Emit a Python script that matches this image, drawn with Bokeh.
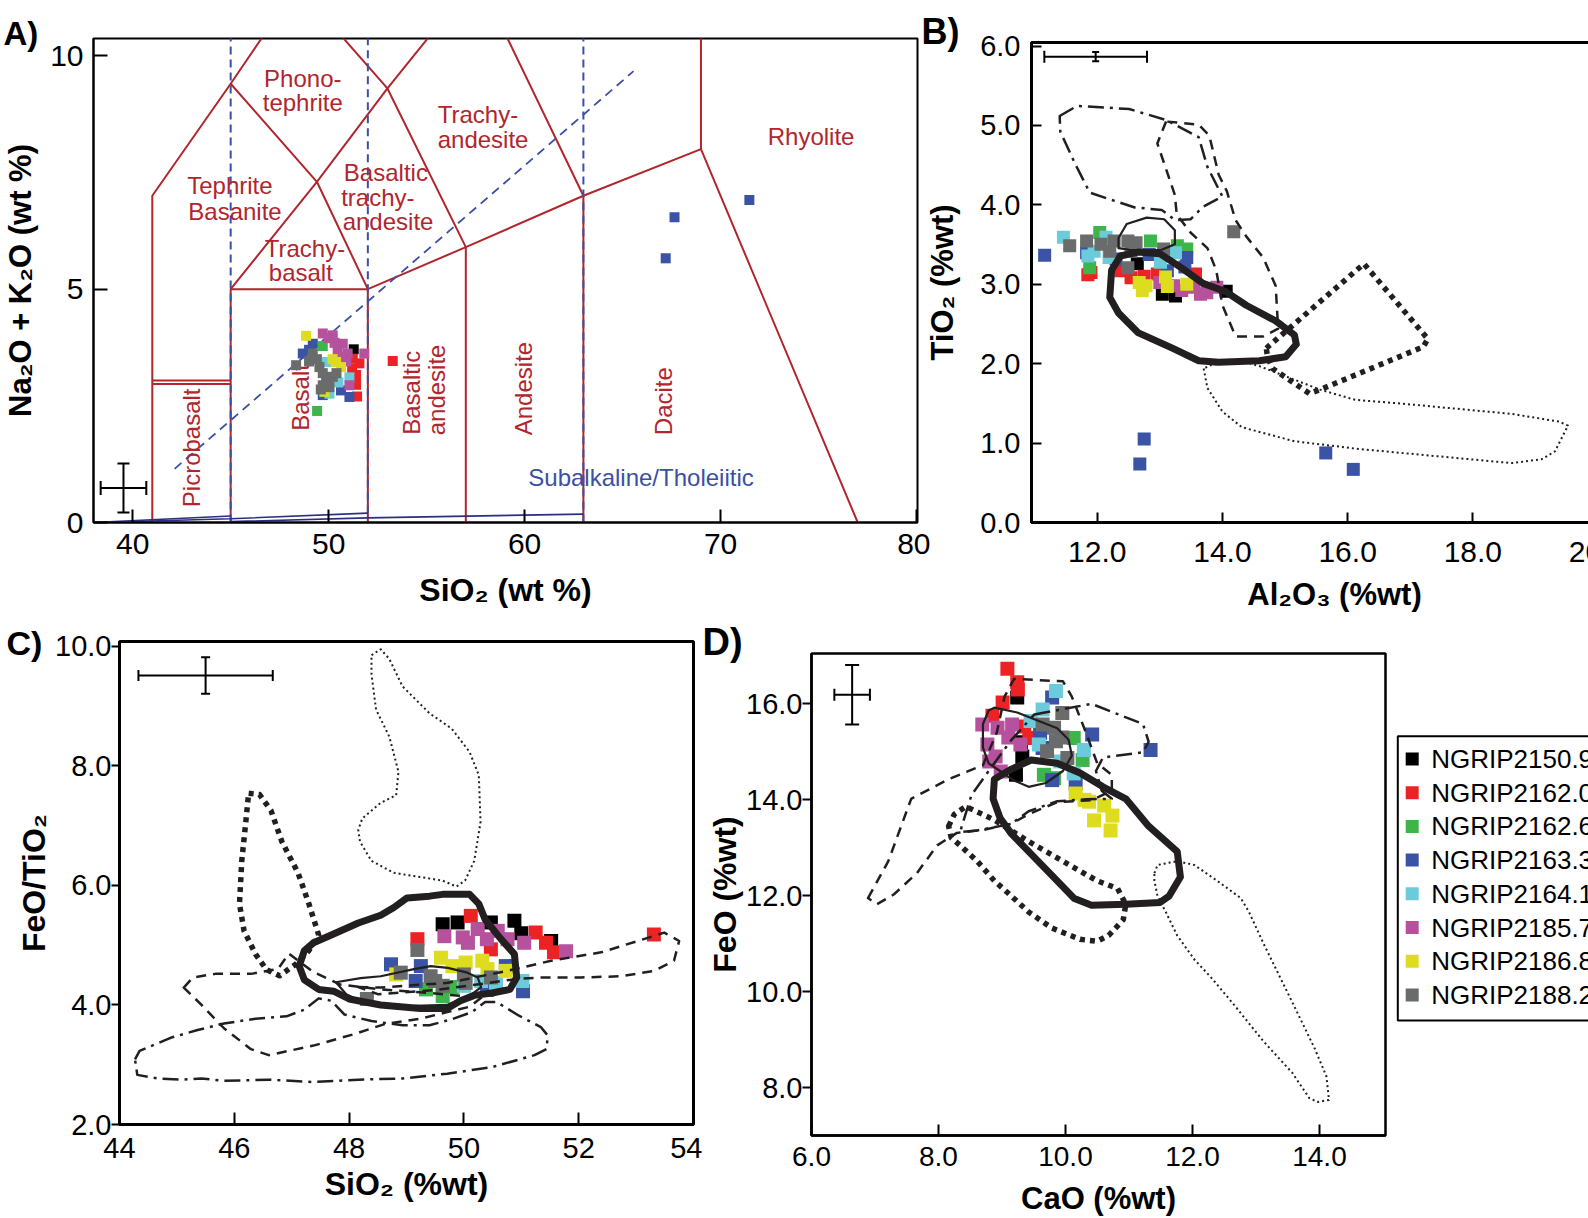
import math
from bokeh.plotting import figure
from bokeh.layouts import column, row
from bokeh.models import (ColumnDataSource, FixedTicker, PrintfTickFormatter, Whisker, TeeHead)
from bokeh.embed import file_html
from bokeh.resources import INLINE
from bokeh.core.properties import value

FONT = "Liberation Sans"
RED = "#B1262C"
BLUE = "#3B4FA3"
NAVY = "#2B2F7F"
INK = "#231F20"

# ---------------- samples ----------------
SAMPLES = ["2150.9", "2162.0", "2162.6", "2163.3", "2164.1", "2185.7", "2186.8", "2188.2"]
SAMPLE_LABELS = ["NGRIP2150.9", "NGRIP2162.0", "NGRIP2162.6", "NGRIP2163.3",
                 "NGRIP2164.1", "NGRIP2185.7", "NGRIP2186.8", "NGRIP2188.2"]
SAMPLE_COLORS = ["#000000", "#ED2224", "#3DB54A", "#3A53A4", "#6BCBDA", "#B5519D", "#DEDC1F", "#6A6B6B"]

# ---------------- panel A: TAS ----------------
A_SAMPLE = [
    "2150.9", "2150.9",
    "2162.0", "2162.0", "2162.0", "2162.0", "2162.0", "2162.0", "2162.0",
    "2162.6", "2162.6",
    "2163.3", "2163.3", "2163.3", "2163.3", "2163.3", "2163.3", "2163.3", "2163.3", "2163.3",
    "2164.1", "2164.1", "2164.1", "2164.1",
    "2185.7", "2185.7", "2185.7", "2185.7", "2185.7", "2185.7", "2185.7", "2185.7", "2185.7", "2185.7", "2185.7",
    "2186.8", "2186.8", "2186.8", "2186.8", "2186.8",
    "2188.2", "2188.2", "2188.2", "2188.2", "2188.2", "2188.2", "2188.2", "2188.2", "2188.2", "2188.2", "2188.2", "2188.2", "2188.2",
]
A_SIO2 = [
    51.28, 51.10,
    51.57, 51.23, 51.40, 51.40, 51.45, 53.27, 51.20,
    49.41, 49.70,
    49.19, 48.68, 49.70, 51.06, 50.63, 49.00, 67.20, 67.65, 71.47,
    49.87, 51.06, 50.04, 50.50,
    49.70, 50.21, 50.72, 50.46, 50.97, 51.82, 50.30, 50.90, 50.60, 51.06, 50.00,
    48.85, 50.38, 50.63, 49.78, 50.20,
    48.34, 49.19, 49.53, 49.87, 50.21, 49.70, 50.04, 49.40, 49.00, 49.70, 50.00, 49.60, 50.40,
]
A_ALKALI = [
    3.71, 3.60,
    3.41, 3.51, 3.16, 2.95, 2.70, 3.46, 3.30,
    2.39, 3.78,
    3.83, 3.62, 2.73, 2.69, 2.83, 3.70, 5.66, 6.54, 6.91,
    3.44, 3.11, 2.76, 3.00,
    4.05, 4.01, 3.83, 3.69, 3.62, 3.62, 3.85, 3.45, 3.55, 2.94, 3.95,
    4.00, 3.44, 3.33, 2.80, 3.50,
    3.37, 3.62, 3.33, 3.12, 3.12, 2.94, 2.90, 3.50, 3.45, 3.20, 3.00, 2.85, 3.20,
]

# TAS field boundaries (Le Bas et al.)
TAS_X = [[41, 41, 45, 48.4], [41, 45], [41, 45], [45, 45, 52, 52], [45, 49.4, 52],
         [45, 49.4, 53, 57], [48.4, 53, 57.6], [52, 57, 63, 69, 77], [57, 57],
         [63, 63, 57.6], [69, 69]]
TAS_Y = [[0, 7, 9.4, 11.5], [2.97, 2.97], [3.04, 3.04], [0, 5, 5, 0], [5, 7.3, 5],
         [9.4, 7.3, 9.3, 5.9], [11.5, 9.3, 11.7], [5, 5.9, 7, 8, 0], [0, 5.9],
         [0, 7, 11.7], [8, 12]]
ALK_DIVIDE_X = [42.14, 65.56]
ALK_DIVIDE_Y = [1.15, 9.67]
TAS_DASHED_SIO2 = [45, 52, 63]
TAS_DASHED_TOP = [10.4, 10.4, 10.4]
TAS_DASHED_BOTTOM = [0.0, 0.2, 0.0]
SUB_X = [[38.0, 45.0], [40.0, 45.0, 52.0], [45.0, 52.0, 63.0]]
SUB_Y = [[0.0, 0.14], [0.02, 0.08, 0.2], [0.02, 0.10, 0.18]]

A_FIELD_TEXT = ["Phono-", "tephrite", "Trachy-", "andesite", "Rhyolite", "Tephrite", "Basanite",
                "Basaltic", "trachy-", "andesite", "Trachy-", "basalt",
                "Picrobasalt", "Basalt", "Basaltic", "andesite", "Andesite", "Dacite"]
A_FIELD_X = [48.68, 48.68, 57.62, 57.88, 74.62, 44.96, 45.22, 52.92, 52.51, 53.03, 48.79, 48.58,
             43.0, 48.58, 54.21, 55.50, 59.95, 67.08]
A_FIELD_Y = [9.52, 9.00, 8.74, 8.21, 8.28, 7.22, 6.67, 7.50, 6.96, 6.44, 5.87, 5.35,
             1.60, 2.68, 2.78, 2.84, 2.87, 2.60]
A_FIELD_VERTICAL = [False] * 12 + [True] * 6

# ---------------- panel B: TiO2 vs Al2O3 ----------------
B_SAMPLE = [
    "2150.9", "2150.9", "2150.9", "2150.9",
    "2162.0", "2162.0", "2162.0", "2162.0", "2162.0", "2162.0", "2162.0",
    "2162.6", "2162.6", "2162.6", "2162.6", "2162.6",
    "2163.3", "2163.3", "2163.3", "2163.3", "2163.3", "2163.3", "2163.3", "2163.3", "2163.3", "2163.3", "2163.3",
    "2164.1", "2164.1", "2164.1", "2164.1", "2164.1", "2164.1", "2164.1",
    "2185.7", "2185.7", "2185.7", "2185.7", "2185.7", "2185.7", "2185.7",
    "2186.8", "2186.8", "2186.8", "2186.8", "2186.8", "2186.8",
    "2188.2", "2188.2", "2188.2", "2188.2", "2188.2", "2188.2", "2188.2", "2188.2", "2188.2", "2188.2", "2188.2",
]
B_AL2O3 = [
    12.64, 13.04, 14.06, 13.25,
    11.90, 11.85, 12.38, 12.54, 12.96, 13.57, 12.75,
    12.04, 11.88, 12.85, 13.28, 13.43,
    11.16, 11.83, 12.83, 13.12, 13.43, 13.40, 12.68, 12.75, 15.65, 16.09, 12.30,
    11.46, 11.85, 12.19, 12.14, 13.01, 13.25, 11.95,
    13.22, 13.54, 13.75, 13.91, 13.65, 13.35, 13.00,
    12.67, 12.78, 13.09, 13.43, 12.72, 13.12,
    11.56, 11.83, 12.06, 12.27, 12.49, 12.62, 12.54, 12.49, 13.06, 14.18, 12.20,
]
B_TIO2 = [
    3.258, 2.874, 2.913, 2.854,
    3.150, 3.120, 3.169, 3.081, 3.130, 3.130, 3.100,
    3.652, 3.209, 3.544, 3.484, 3.445,
    3.366, 3.396, 3.376, 3.169, 3.337, 3.219, 0.738, 1.053, 0.876, 0.669, 3.317,
    3.593, 3.356, 3.337, 3.593, 3.278, 3.396, 3.416,
    2.982, 2.963, 2.894, 2.963, 2.874, 2.923, 3.022,
    3.022, 2.982, 3.091, 3.002, 2.923, 2.973,
    3.484, 3.544, 3.504, 3.544, 3.544, 3.524, 3.416, 3.209, 3.445, 3.662, 3.416,
]
B_DASHDOT_X = [11.40, 11.68, 12.51, 13.10, 13.62, 13.76, 14.00, 13.69, 13.49, 13.24, 13.03, 12.60, 11.88, 11.64, 11.41]
B_DASHDOT_Y = [5.119, 5.247, 5.207, 5.069, 4.853, 4.479, 4.105, 3.977, 3.819, 3.809, 3.937, 3.967, 4.154, 4.528, 4.922]
B_DASHED_X = [13.10, 12.96, 13.13, 13.24, 13.27, 13.49, 13.76, 13.90, 14.00, 14.21, 14.65, 14.89, 14.85, 14.65,
              14.38, 14.21, 14.07, 13.94, 13.79, 13.62]
B_DASHED_Y = [5.050, 4.774, 4.380, 4.124, 3.878, 3.652, 3.455, 3.179, 2.736, 2.343, 2.343, 2.441, 2.982, 3.337,
              3.603, 3.809, 4.173, 4.380, 4.873, 5.010]
B_THIN_X = [12.34, 12.47, 12.79, 13.07, 13.24, 13.24, 13.03, 12.79, 12.51, 12.34]
B_THIN_Y = [3.583, 3.760, 3.839, 3.819, 3.681, 3.504, 3.435, 3.425, 3.435, 3.455]
B_THICK_X = [12.20, 12.23, 12.37, 12.65, 13.00, 13.34, 13.69, 14.04, 14.38, 14.85, 15.15, 15.18, 15.01,
             14.59, 13.94, 13.62, 13.20, 12.65, 12.34]
B_THICK_Y = [2.835, 3.179, 3.356, 3.406, 3.386, 3.209, 3.012, 2.913, 2.736, 2.539, 2.362, 2.244, 2.087,
             2.037, 2.018, 2.037, 2.195, 2.392, 2.638]
B_THICKDOT_X = [14.70, 16.26, 17.28, 17.21, 15.56, 15.39, 14.80, 14.72]
B_THICKDOT_Y = [2.195, 3.258, 2.313, 2.214, 1.673, 1.624, 1.939, 2.087]
B_DOT_X = [13.70, 13.76, 14.00, 14.31, 15.15, 16.19, 18.62, 19.10, 19.31, 19.52, 19.38, 18.62, 16.88,
           16.12, 15.56, 14.85, 14.59, 14.38, 13.83]
B_DOT_Y = [1.939, 1.693, 1.397, 1.200, 1.023, 0.925, 0.748, 0.797, 0.895, 1.220, 1.270, 1.368, 1.496,
           1.545, 1.673, 1.890, 1.969, 2.018, 1.988]

# ---------------- panel C: FeO/TiO2 vs SiO2 ----------------
C_SAMPLE = [
    "2150.9", "2150.9", "2150.9", "2150.9", "2150.9", "2150.9",
    "2162.0", "2162.0", "2162.0", "2162.0", "2162.0", "2162.0", "2162.0",
    "2162.6", "2162.6", "2162.6",
    "2163.3", "2163.3", "2163.3", "2163.3", "2163.3", "2163.3",
    "2164.1", "2164.1", "2164.1", "2164.1",
    "2185.7", "2185.7", "2185.7", "2185.7", "2185.7", "2185.7", "2185.7", "2185.7", "2185.7",
    "2186.8", "2186.8", "2186.8", "2186.8", "2186.8", "2186.8", "2186.8",
    "2188.2", "2188.2", "2188.2", "2188.2", "2188.2", "2188.2", "2188.2", "2188.2", "2188.2",
]
C_SIO2 = [
    49.63, 49.89, 50.47, 50.88, 51.52, 51.00,
    50.12, 51.25, 51.43, 51.57, 50.47, 53.31, 49.19,
    49.34, 49.63, 49.80,
    48.73, 49.25, 49.16, 50.73, 51.03, 50.40,
    51.02, 50.56, 50.00, 50.30,
    49.66, 49.98, 50.24, 50.59, 50.76, 51.05, 51.78, 50.07, 50.40,
    49.60, 49.80, 50.03, 50.32, 50.41, 50.73, 48.82,
    49.19, 48.90, 49.42, 49.63, 50.00, 50.03, 50.47, 48.31, 49.50,
]
C_FEO_TIO2 = [
    5.35, 5.38, 5.38, 5.41, 5.07, 5.20,
    5.49, 5.21, 5.04, 4.88, 4.93, 5.18, 5.10,
    4.26, 4.15, 4.30,
    4.68, 4.65, 4.40, 4.65, 4.23, 4.25,
    4.40, 4.37, 4.32, 4.40,
    5.15, 5.13, 5.27, 5.24, 5.10, 5.04, 4.90, 5.04, 5.10,
    4.79, 4.65, 4.71, 4.74, 4.60, 4.57, 4.51,
    4.92, 4.54, 4.48, 4.32, 4.51, 4.37, 4.46, 4.10, 4.40,
]
C_DOT_X = [48.39, 48.55, 48.70, 48.93, 49.40, 49.79, 50.10, 50.26, 50.29, 50.18, 50.02, 49.87, 49.63,
           49.17, 48.78, 48.39, 48.19, 48.16, 48.23, 48.55, 48.82, 48.86, 48.70, 48.47, 48.39]
C_DOT_Y = [9.85, 9.95, 9.79, 9.33, 8.88, 8.62, 8.23, 7.84, 7.06, 6.41, 6.08, 5.98, 6.08,
           6.15, 6.21, 6.41, 6.73, 6.93, 7.12, 7.38, 7.51, 7.90, 8.49, 8.94, 9.53]
C_THICKDOT_X = [46.25, 46.44, 46.64, 46.83, 47.11, 47.30, 47.47, 47.30, 47.07, 46.79, 46.56, 46.37,
                46.17, 46.09, 46.13, 46.20]
C_THICKDOT_Y = [7.54, 7.52, 7.25, 6.73, 6.21, 5.69, 5.17, 4.91, 4.68, 4.49, 4.59, 4.85,
                5.24, 5.69, 6.41, 7.06]
C_THICK_X = [47.22, 47.38, 47.69, 48.16, 48.55, 48.78, 49.01, 49.40, 49.63, 50.10, 50.26, 50.37, 50.64,
             50.88, 50.92, 50.80, 50.49, 50.18, 49.94, 49.71, 49.24, 48.55, 48.00, 47.73, 47.47, 47.22, 47.13]
C_THICK_Y = [4.91, 5.04, 5.17, 5.37, 5.50, 5.63, 5.79, 5.82, 5.85, 5.85, 5.69, 5.43, 5.11,
             4.85, 4.46, 4.26, 4.20, 4.16, 4.07, 3.94, 3.94, 4.00, 4.10, 4.23, 4.26, 4.42, 4.65]
C_THIN_X = [47.77, 48.20, 48.55, 49.13, 49.42, 49.72, 50.06, 50.24, 50.30, 50.10, 49.70, 49.00, 48.30, 47.95]
C_THIN_Y = [4.38, 4.45, 4.48, 4.60, 4.65, 4.62, 4.54, 4.46, 4.30, 4.15, 4.00, 3.98, 4.02, 4.18]
C_DASHED_X = [48.16, 48.55, 49.72, 50.76, 51.52, 52.39, 53.03, 53.49, 53.75, 53.66, 53.31, 52.74, 52.04,
              51.34, 50.88, 50.30, 49.50, 48.50]
C_DASHED_Y = [4.30, 4.29, 4.37, 4.57, 4.74, 4.88, 5.07, 5.21, 5.07, 4.74, 4.57, 4.48, 4.46,
              4.46, 4.43, 4.35, 4.25, 4.18]
C_DASHED2_X = [45.12, 45.28, 45.67, 46.29, 46.76, 46.95, 47.38, 47.85, 48.55, 49.40, 50.18, 50.45, 50.10,
               49.71, 49.24, 48.62, 48.08, 47.38, 46.60, 46.29, 45.82, 45.43]
C_DASHED2_Y = [4.29, 4.46, 4.52, 4.52, 4.60, 4.86, 4.55, 4.34, 4.26, 4.20, 4.13, 4.23, 3.97,
               3.88, 3.77, 3.68, 3.51, 3.32, 3.16, 3.26, 3.61, 4.00]
C_DASHDOT_X = [44.27, 44.35, 44.89, 45.36, 45.82, 46.37, 46.91, 47.22, 47.47, 47.69, 47.92, 48.39, 48.93,
               49.40, 49.79, 50.14, 50.37, 50.57, 50.96, 51.34, 51.46, 51.44, 51.23, 50.49, 49.71, 48.93,
               48.16, 47.38, 46.60, 45.82, 45.43, 45.05, 44.66, 44.31]
C_DASHDOT_Y = [3.09, 3.23, 3.45, 3.58, 3.69, 3.77, 3.81, 3.92, 4.11, 4.07, 3.84, 3.73, 3.66,
               3.66, 3.76, 3.88, 4.05, 4.05, 3.82, 3.63, 3.49, 3.26, 3.16, 2.96, 2.85, 2.77,
               2.75, 2.71, 2.75, 2.73, 2.77, 2.75, 2.77, 2.83]

# ---------------- panel D: FeO vs CaO ----------------
D_SAMPLE = [
    "2150.9", "2150.9", "2150.9", "2150.9",
    "2162.0", "2162.0", "2162.0", "2162.0", "2162.0", "2162.0", "2162.0",
    "2162.6", "2162.6", "2162.6", "2162.6",
    "2163.3", "2163.3", "2163.3", "2163.3", "2163.3", "2163.3", "2163.3",
    "2164.1", "2164.1", "2164.1", "2164.1", "2164.1", "2164.1", "2164.1",
    "2185.7", "2185.7", "2185.7", "2185.7", "2185.7", "2185.7", "2185.7", "2185.7", "2185.7",
    "2186.8", "2186.8", "2186.8", "2186.8", "2186.8", "2186.8", "2186.8",
    "2188.2", "2188.2", "2188.2", "2188.2", "2188.2", "2188.2", "2188.2",
]
D_CAO = [
    9.24, 9.32, 9.22, 9.30,
    9.085, 9.24, 9.25, 9.01, 8.85, 9.35, 9.43,
    10.13, 9.66, 9.82, 10.27,
    9.79, 10.42, 11.34, 9.79, 10.16, 9.64, 9.60,
    9.85, 9.64, 9.45, 9.58, 10.29, 9.92, 10.13,
    8.69, 8.93, 8.77, 9.16, 9.29, 8.90, 8.98, 8.80, 9.10,
    10.16, 10.37, 10.61, 10.74, 10.45, 10.71, 10.30,
    9.95, 9.64, 9.82, 9.85, 10.03, 9.71, 9.95,
]
D_FEO = [
    16.13, 14.90, 14.52, 15.20,
    16.73, 16.45, 16.30, 16.03, 15.75, 15.53, 15.29,
    15.29, 14.52, 14.45, 14.83,
    16.13, 15.36, 15.04, 14.41, 14.34, 15.08, 15.40,
    16.27, 15.88, 15.64, 15.15, 15.04, 14.80, 14.55,
    15.57, 15.50, 15.15, 15.57, 15.15, 14.90, 14.59, 14.80, 15.30,
    14.13, 13.96, 13.88, 13.67, 13.57, 13.36, 14.00,
    15.81, 15.57, 15.50, 15.22, 14.87, 15.01, 15.30,
]
D_THICK_X = [8.88, 9.15, 9.46, 9.87, 10.23, 10.59, 10.95, 11.31, 11.76, 11.81, 11.63, 11.49, 10.95,
             10.41, 10.14, 9.87, 9.51, 9.15, 8.97, 8.86]
D_THICK_Y = [14.43, 14.64, 14.83, 14.76, 14.56, 14.27, 14.02, 13.45, 12.92, 12.39, 11.99, 11.86, 11.82,
             11.80, 11.94, 12.31, 12.80, 13.29, 13.62, 14.02]
D_THICKDOT_X = [8.16, 8.25, 8.43, 8.88, 9.42, 9.96, 10.50, 10.82, 10.95, 10.91, 10.68, 10.50, 10.23,
                9.78, 9.42, 9.15, 8.88, 8.61, 8.34, 8.20]
D_THICKDOT_Y = [13.45, 13.70, 13.86, 13.58, 13.13, 12.72, 12.31, 12.15, 11.82, 11.50, 11.17, 11.05, 11.09,
                11.33, 11.66, 11.99, 12.31, 12.72, 13.05, 13.21]
D_DOT_X = [11.40, 11.45, 11.76, 12.03, 12.39, 12.76, 12.89, 13.12, 13.39, 13.66, 13.93, 14.11, 14.15,
           13.97, 13.84, 13.57, 13.12, 12.67, 12.31, 12.03, 11.76, 11.58, 11.45, 11.40]
D_DOT_Y = [12.47, 12.64, 12.72, 12.64, 12.31, 11.95, 11.66, 11.00, 10.27, 9.54, 8.80, 8.23, 7.74,
           7.70, 7.78, 8.31, 8.96, 9.70, 10.27, 10.67, 11.17, 11.66, 11.99, 12.31]
D_DASHED_X = [6.89, 7.21, 7.57, 8.16, 8.70, 8.92, 9.04, 9.19, 9.96, 10.10, 10.32, 10.50, 10.73, 10.73,
              10.41, 9.87, 9.42, 9.15, 8.70, 8.29, 7.98, 7.66, 7.30, 7.03]
D_DASHED_Y = [11.95, 12.72, 14.02, 14.43, 14.72, 15.41, 16.15, 16.52, 16.47, 16.15, 15.41, 14.76, 14.52, 14.19,
              13.99, 13.95, 13.70, 13.50, 13.37, 13.31, 13.05, 12.47, 12.03, 11.82]
D_DASHDOT_X = [9.51, 10.41, 11.22, 11.31, 11.22, 10.59, 10.48, 10.57, 10.73, 10.32, 9.87, 9.42, 9.15,
               8.61, 8.34, 8.52, 8.79, 9.15]
D_DASHDOT_Y = [15.78, 16.00, 15.58, 15.21, 14.99, 14.88, 14.60, 14.19, 14.02, 14.01, 13.97, 13.76, 13.50,
               13.36, 13.33, 14.10, 14.60, 15.25]
D_THIN_X = [8.70, 8.79, 8.88, 9.24, 9.87, 10.05, 10.10, 9.96, 9.69, 9.42, 9.19, 8.97, 8.79, 8.70]
D_THIN_Y = [15.58, 15.86, 15.92, 15.82, 15.49, 15.25, 14.92, 14.60, 14.35, 14.27, 14.40, 14.60, 14.76, 15.09]

# ---------------- analytical error crosses ----------------
ERR_PANEL = ["A", "B", "C", "D"]
ERR_X = [39.53, 11.975, 45.50, 6.64]
ERR_Y = [0.74, 5.867, 9.51, 16.19]
ERR_DX = [1.165, 0.82, 1.17, 0.28]
ERR_DY = [0.525, 0.059, 0.305, 0.62]

STYLES = {
    "thick": dict(line_width=7),
    "thin": dict(line_width=2.2),
    "dashed": dict(line_width=2.5, line_dash="10 7"),
    "dashdot": dict(line_width=2.5, line_dash="16 6 3 6"),
    "dotted": dict(line_width=2, line_dash="2 3"),
    "thickdot": dict(line_width=5.5, line_dash="5 5"),
}


def no_align(p):
    try:
        p.frame_align = False
    except Exception:
        pass


def make_fig(w, h, xr, yr, mbl, mbr, mbt, mbb, outline_w):
    p = figure(width=w, height=h, x_range=xr, y_range=yr, output_backend="svg",
               toolbar_location=None, min_border_left=mbl, min_border_right=mbr,
               min_border_top=mbt, min_border_bottom=mbb)
    p.grid.visible = False
    p.outline_line_color = "black"
    p.outline_line_width = outline_w
    p.outline_line_alpha = 1
    p.border_fill_alpha = 0
    no_align(p)
    return p


def style_axis(ax, ticks, fmt, font_size, tick_in, tick_out, standoff, label, label_size,
               label_standoff, line_width):
    ax.ticker = FixedTicker(ticks=ticks)
    if fmt:
        ax.formatter = PrintfTickFormatter(format=fmt)
    ax.axis_line_width = line_width
    ax.axis_line_color = "black"
    ax.major_tick_in = tick_in
    ax.major_tick_out = tick_out
    ax.major_tick_line_width = 2
    ax.major_tick_line_color = "black"
    ax.minor_tick_line_color = None
    ax.major_label_text_font = FONT
    ax.major_label_text_font_size = f"{font_size}px"
    ax.major_label_text_color = "black"
    ax.major_label_standoff = standoff
    ax.axis_label = label
    ax.axis_label_text_font = FONT
    ax.axis_label_text_font_style = "bold"
    ax.axis_label_text_font_size = f"{label_size}px"
    ax.axis_label_text_color = "black"
    ax.axis_label_standoff = label_standoff


def draw_points(p, samples, xs, ys, size):
    rends = []
    for key, color in zip(SAMPLES, SAMPLE_COLORS):
        px = [x for s, x in zip(samples, xs) if s == key]
        py = [y for s, y in zip(samples, ys) if s == key]
        rends.append(p.scatter(px, py, marker="square", size=size, fill_color=color,
                               line_color=None))
    return rends


def outline(p, xs, ys, style):
    p.patch(xs, ys, fill_color=None, line_color=INK, line_join="round", **STYLES[style])


def error_cross(p, panel, xcap, ycap):
    i = ERR_PANEL.index(panel)
    src = ColumnDataSource(data=dict(
        x=[ERR_X[i]], y=[ERR_Y[i]],
        xl=[ERR_X[i] - ERR_DX[i]], xu=[ERR_X[i] + ERR_DX[i]],
        yl=[ERR_Y[i] - ERR_DY[i]], yu=[ERR_Y[i] + ERR_DY[i]]))
    p.add_layout(Whisker(source=src, base="y", lower="xl", upper="xu", dimension="width",
                         line_width=2, line_color="black",
                         lower_head=TeeHead(size=xcap, line_width=2, line_color="black"),
                         upper_head=TeeHead(size=xcap, line_width=2, line_color="black")))
    p.add_layout(Whisker(source=src, base="x", lower="yl", upper="yu", dimension="height",
                         line_width=2, line_color="black",
                         lower_head=TeeHead(size=ycap, line_width=2, line_color="black"),
                         upper_head=TeeHead(size=ycap, line_width=2, line_color="black")))


def panel_label(p, text, offset, standoff, size):
    t = p.title
    t.text = text
    t.align = "left"
    t.vertical_align = "bottom"
    t.offset = offset
    t.text_font = FONT
    t.text_font_style = "bold"
    t.text_font_size = f"{size}px"
    t.text_color = "black"
    try:
        t.standoff = standoff
    except Exception:
        t.standoff = 0


# ================= Panel A (page x 0..930, y 0..616) =================
pA = make_fig(930, 616, (38.0, 80.05), (0.0, 10.37), 93, 13, 38, 94, 2)
pA.border_fill_alpha = 1
style_axis(pA.xaxis[0], [40, 50, 60, 70, 80], None, 30, 13, 0, 11, "SiO\u2082 (wt %)", 32, 15, 2)
style_axis(pA.yaxis[0], [0, 5, 10], None, 30, 14, 0, 10, "Na\u2082O + K\u2082O (wt %)", 31, 9, 2)
pA.multi_line(TAS_X, TAS_Y, line_color=RED, line_width=2)
pA.segment(x0=TAS_DASHED_SIO2, y0=TAS_DASHED_BOTTOM, x1=TAS_DASHED_SIO2, y1=TAS_DASHED_TOP,
           line_color=BLUE, line_width=2, line_dash="8 5")
pA.line(ALK_DIVIDE_X, ALK_DIVIDE_Y, line_color=BLUE, line_width=1.8, line_dash="9 6")
pA.multi_line(SUB_X, SUB_Y, line_color=NAVY, line_width=1.6)
pA.text(x=A_FIELD_X, y=A_FIELD_Y, text=A_FIELD_TEXT,
        angle=[math.pi / 2 if v else 0 for v in A_FIELD_VERTICAL],
        text_font=value(FONT), text_font_size="24px", text_color=RED,
        text_align="center", text_baseline="middle")
pA.text(x=[65.94], y=[0.97], text=["Subalkaline/Tholeiitic"], text_font=value(FONT),
        text_font_size="24px", text_color=BLUE, text_align="center", text_baseline="middle")
draw_points(pA, A_SAMPLE, A_SIO2, A_ALKALI, 10)
error_cross(pA, "A", 14, 12)
panel_label(pA, "A)", -90, -27, 33)

# ================= Panel B (page x 922..1637, y 0..616; overlaps A by 8 px) =================
pB = make_fig(715, 616, (10.95, 20.63), (0.0, 6.045), 109, 0, 42, 94, 3)
pB.margin = (0, 0, 0, -8)
style_axis(pB.xaxis[0], [12, 14, 16, 18, 20], "%.1f", 30, 10, 0, 19, "Al\u2082O\u2083 (%wt)", 31, 12, 3)
style_axis(pB.yaxis[0], [0, 1, 2, 3, 4, 5, 6], "%.1f", 29, 10, 0, 11, "TiO\u2082 (%wt)", 31, 17, 3)
draw_points(pB, B_SAMPLE, B_AL2O3, B_TIO2, 13)
outline(pB, B_DASHDOT_X, B_DASHDOT_Y, "dashdot")
outline(pB, B_DASHED_X, B_DASHED_Y, "dashed")
outline(pB, B_THIN_X, B_THIN_Y, "thin")
outline(pB, B_DOT_X, B_DOT_Y, "dotted")
outline(pB, B_THICKDOT_X, B_THICKDOT_Y, "thickdot")
outline(pB, B_THICK_X, B_THICK_Y, "thick")
error_cross(pB, "B", 12, 7)
panel_label(pB, "B)", -110, -19, 36)

# ================= Panel C (page x 0..702, y 601..1218) =================
pC = make_fig(702, 617, (44.0, 54.0), (2.0, 10.08), 119, 9, 40, 94, 3)
style_axis(pC.xaxis[0], [44, 46, 48, 50, 52, 54], None, 29, 12, 0, 13, "SiO\u2082 (%wt)", 32, 5, 3)
style_axis(pC.yaxis[0], [2, 4, 6, 8, 10], "%.1f", 29, 0, 8, 0, "FeO/TiO\u2082", 32, 0, 3)
draw_points(pC, C_SAMPLE, C_SIO2, C_FEO_TIO2, 14)
outline(pC, C_DOT_X, C_DOT_Y, "dotted")
outline(pC, C_DASHDOT_X, C_DASHDOT_Y, "dashdot")
outline(pC, C_DASHED2_X, C_DASHED2_Y, "dashed")
outline(pC, C_DASHED_X, C_DASHED_Y, "dashed")
outline(pC, C_THIN_X, C_THIN_Y, "thin")
outline(pC, C_THICKDOT_X, C_THICKDOT_Y, "thickdot")
outline(pC, C_THICK_X, C_THICK_Y, "thick")
error_cross(pC, "C", 11, 9)
panel_label(pC, "C)", -113, -40, 34)

# ================= Panel D (page x 702..1392, y 601..1218) =================
pD = make_fig(690, 617, (6.0, 15.04), (7.0, 17.05), 109, 7, 52, 83, 2.5)
style_axis(pD.xaxis[0], [6, 8, 10, 12, 14], "%.1f", 28, 11, 0, 11, "CaO (%wt)", 31, 12, 2.5)
style_axis(pD.yaxis[0], [8, 10, 12, 14, 16], "%.1f", 29, 0, 9, 0, "FeO (%wt)", 32, 0, 2.5)
draw_points(pD, D_SAMPLE, D_CAO, D_FEO, 14)
outline(pD, D_DOT_X, D_DOT_Y, "dotted")
outline(pD, D_DASHED_X, D_DASHED_Y, "dashed")
outline(pD, D_DASHDOT_X, D_DASHDOT_Y, "dashdot")
outline(pD, D_THIN_X, D_THIN_Y, "thin")
outline(pD, D_THICKDOT_X, D_THICKDOT_Y, "thickdot")
outline(pD, D_THICK_X, D_THICK_Y, "thick")
error_cross(pD, "D", 12, 14)
panel_label(pD, "D)", -109, -18, 38)

# ================= Legend strip (page x 1392..1588, y 601..1218), 1 unit = 1 px =================
LEG_W, LEG_H = 196, 617
LEG_BOX = dict(left=5.3, right=215.0, top=482.3, bottom=198.1)
LEG_ROW0, LEG_ROW_STEP = 459.5, 33.7
LEG_MARK_X, LEG_TEXT_X = 19.7, 38.7
pL = figure(width=LEG_W, height=LEG_H, x_range=(0, LEG_W), y_range=(0, LEG_H),
            output_backend="svg", toolbar_location=None, x_axis_type=None, y_axis_type=None,
            min_border_left=0, min_border_right=0, min_border_top=0, min_border_bottom=0)
pL.grid.visible = False
pL.outline_line_color = None
pL.border_fill_alpha = 0
pL.background_fill_alpha = 0
pL.title.text_font_size = "0px"
no_align(pL)
pL.quad(left=[LEG_BOX["left"]], right=[LEG_BOX["right"]], top=[LEG_BOX["top"]],
        bottom=[LEG_BOX["bottom"]], fill_color="white", line_color="black", line_width=2)
leg_y = [LEG_ROW0 - LEG_ROW_STEP * i for i in range(len(SAMPLE_LABELS))]
pL.scatter([LEG_MARK_X] * len(SAMPLE_LABELS), leg_y, marker="square", size=13,
           fill_color=SAMPLE_COLORS, line_color=None)
pL.text(x=[LEG_TEXT_X] * len(SAMPLE_LABELS), y=leg_y, text=SAMPLE_LABELS,
        text_font=value(FONT), text_font_size="26px", text_color="black",
        text_align="left", text_baseline="middle")

row1 = row(pA, pB)
row2 = row(pC, pD, pL)
row2.margin = (-15, 0, 0, 0)
layout = column(row1, row2)
html = file_html(layout, INLINE)
html = html.replace("</head>",
                    "<style>html, body { margin: 0 !important; padding: 0 !important; "
                    "overflow: hidden !important; }</style></head>", 1)
open("out.html", "w").write(html)
